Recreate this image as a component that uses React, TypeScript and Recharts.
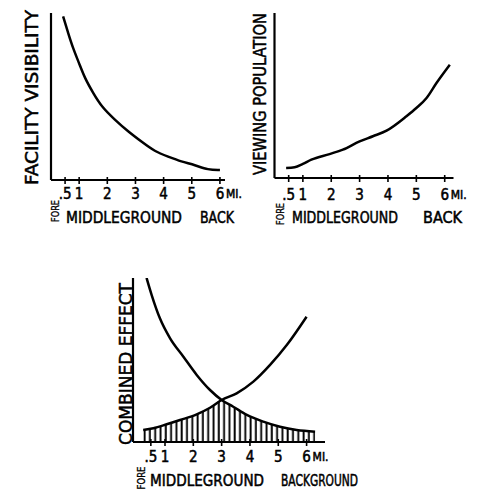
import React from 'react';
import { ComposedChart, Line, Area, XAxis, YAxis } from 'recharts';

// ---- data ----
const tickValues = [0.5, 1, 2, 3, 4, 5, 6];
const unitLabel = 'MI.';

const visibilityX = [0.43, 0.61, 0.78, 1.02, 1.2, 1.5, 1.79, 2.27, 2.74, 3.21, 3.69, 4.16, 4.63, 5.11, 5.58, 6.0];
const visibilityY = [98, 88, 79, 69, 61, 52, 44, 36, 29, 23, 17, 14, 11, 9, 6, 6];

const populationX = [0.41, 0.71, 1.0, 1.3, 1.94, 2.41, 3.0, 3.47, 3.95, 4.65, 5.0, 5.36, 5.71, 6.18];
const populationY = [6.1, 6.5, 8.5, 11.1, 14.5, 17.2, 22.2, 25.3, 28.7, 37.4, 42.4, 48.5, 57.6, 68.7];

const combinedFallX = [0.35, 0.53, 0.82, 1.18, 1.65, 2.12, 2.59, 3.0, 3.41, 3.89, 4.47, 5.06, 5.65, 6.3];
const combinedFallY = [100, 89.6, 75.4, 63.2, 52.0, 40.9, 31.7, 25.6, 21.5, 16.5, 12.4, 9.3, 7.3, 6.3];
const combinedRiseX = [0.23, 0.59, 1.06, 1.53, 2.12, 2.59, 3.0, 3.53, 4.12, 4.71, 5.3, 6.0];
const combinedRiseY = [7.3, 8.4, 10.8, 13.4, 16.9, 20.9, 25.6, 29.7, 36.8, 47.0, 59.1, 76.4];

const title1 = 'FACILITY VISIBILITY';
const title2 = 'VIEWING POPULATION';
const title3 = 'COMBINED EFFECT';
const zones12 = ['FORE', 'MIDDLEGROUND', 'BACK'];
const zones3 = ['FORE', 'MIDDLEGROUND', 'BACKGROUND'];

// ---- helpers ----
const toRows = (xs: number[], ys: number[]) => xs.map((x, i) => ({ x, y: ys[i] }));
const visData = toRows(visibilityX, visibilityY);
const popData = toRows(populationX, populationY);
const fallData = toRows(combinedFallX, combinedFallY);
const riseData = toRows(combinedRiseX, combinedRiseY);
const crossX = 3.0;
const shadeData = [
  ...riseData.filter((d) => d.x <= crossX),
  ...fallData.filter((d) => d.x > crossX),
];

const FONT = "'DejaVu Sans Condensed', 'Liberation Sans Narrow', 'DejaVu Sans', sans-serif";
const INK = '#000';
const YW = 20;
const XH = 30;
const textInk = { fill: INK, stroke: INK, strokeWidth: 0.5 };

// all coordinates below are given in page pixels, shifted by each panel's origin (ox, oy)
function makeTick(oy: number, axisY: number, labelY: number) {
  return (props: any) => {
    const { x, payload } = props;
    const v = payload.value;
    const label = v === 0.5 ? '.5' : String(v);
    const ay = axisY - oy;
    const ly = labelY - oy;
    return (
      <g>
        <line x1={x} x2={x} y1={ay - 3} y2={ay + 4} stroke={INK} strokeWidth={1.6} />
        <text x={x} y={ly} textAnchor="middle" dominantBaseline="central" fontFamily={FONT}
          fontSize={15} {...textInk}>{label}</text>
        {v === 6 && (
          <text x={x + 6} y={ly} textAnchor="start" dominantBaseline="central" fontFamily={FONT}
            fontSize={12} {...textInk}>{unitLabel}</text>
        )}
      </g>
    );
  };
}

function yTitle(ox: number, oy: number, text: string, pcx: number, pcy: number, len: number, size = 18) {
  const cx = pcx - ox;
  const cy = pcy - oy;
  return () => (
    <text transform={`rotate(-90 ${cx} ${cy})`} x={cx} y={cy} textAnchor="middle" dominantBaseline="central"
      textLength={len} lengthAdjust="spacingAndGlyphs" fontFamily={FONT} fontSize={size} {...textInk}>
      {text}
    </text>
  );
}

function zoneLabels(
  ox: number,
  oy: number,
  zones: string[],
  fore: { cx: number; cy: number; len: number },
  y: number,
  spans: [number, number][]
) {
  const fx = fore.cx - ox;
  const fy = fore.cy - oy;
  return () => (
    <g>
      <text transform={`rotate(-90 ${fx} ${fy})`} x={fx} y={fy} textAnchor="middle"
        dominantBaseline="central" textLength={fore.len} lengthAdjust="spacingAndGlyphs" fontFamily={FONT}
        fontSize={10} {...textInk} strokeWidth={0.3}>{zones[0]}</text>
      {spans.map((s, i) => (
        <text key={i} x={s[0] - ox} y={y - oy} textAnchor="start" dominantBaseline="central" textLength={s[1] - s[0]}
          lengthAdjust="spacingAndGlyphs" fontFamily={FONT} fontSize={16} {...textInk}>
          {zones[i + 1]}
        </text>
      ))}
    </g>
  );
}

const axisStyle = { stroke: INK, strokeWidth: 2.2 };

export default function App() {
  // panel origins and sizes (page pixels)
  const p1 = { ox: 0, oy: 0, w: 244, h: 235 };
  const p2 = { ox: 244, oy: 0, w: 235, h: 235 };
  const p3 = { ox: 0, oy: 240, w: 479, h: 261 };
  return (
    <div style={{ position: 'absolute', left: 0, top: 0, width: 479, height: 501, background: '#fff', overflow: 'hidden' }}>
      {/* Chart 1: facility visibility */}
      <div style={{ position: 'absolute', left: p1.ox, top: p1.oy }}>
        <ComposedChart width={p1.w} height={p1.h}
          margin={{ top: 13 - p1.oy, left: 51 - p1.ox - YW, right: p1.ox + p1.w - 225, bottom: p1.oy + p1.h - 180 - XH }}>
          <XAxis type="number" dataKey="x" domain={[0, 6.18]} ticks={tickValues} interval={0} height={XH}
            axisLine={axisStyle} tickLine={false} tick={makeTick(p1.oy, 180, 194)} allowDataOverflow
            label={zoneLabels(p1.ox, p1.oy, zones12, { cx: 55, cy: 211, len: 22 }, 217, [[66, 182], [200, 234]])} />
          <YAxis type="number" domain={[0, 100]} width={YW} tick={false} tickLine={false} axisLine={axisStyle}
            allowDataOverflow label={yTitle(p1.ox, p1.oy, title1, 31, 97.5, 175)} />
          <Line data={visData} dataKey="y" type="basis" stroke={INK} strokeWidth={2.5} dot={false}
            isAnimationActive={false} />
        </ComposedChart>
      </div>

      {/* Chart 2: viewing population */}
      <div style={{ position: 'absolute', left: p2.ox, top: p2.oy }}>
        <ComposedChart width={p2.w} height={p2.h}
          margin={{ top: 13 - p2.oy, left: 274.5 - p2.ox - YW, right: p2.ox + p2.w - 453.5, bottom: p2.oy + p2.h - 178 - XH }}>
          <XAxis type="number" dataKey="x" domain={[0, 6.31]} ticks={tickValues} interval={0} height={XH}
            axisLine={axisStyle} tickLine={false} tick={makeTick(p2.oy, 178, 195)} allowDataOverflow
            label={zoneLabels(p2.ox, p2.oy, zones12, { cx: 280, cy: 214, len: 22 }, 217, [[292, 398], [423, 462]])} />
          <YAxis type="number" domain={[0, 100]} width={YW} tick={false} tickLine={false} axisLine={axisStyle}
            allowDataOverflow label={yTitle(p2.ox, p2.oy, title2, 259.5, 94, 162, 17)} />
          <Line data={popData} dataKey="y" type="monotone" stroke={INK} strokeWidth={2.5} dot={false}
            isAnimationActive={false} />
        </ComposedChart>
      </div>

      {/* Chart 3: combined effect */}
      <div style={{ position: 'absolute', left: p3.ox, top: p3.oy }}>
        <ComposedChart width={p3.w} height={p3.h}
          margin={{ top: 278 - p3.oy, left: 133 - p3.ox - YW, right: p3.ox + p3.w - 325, bottom: p3.oy + p3.h - 442 - XH }}>
          <defs>
            <pattern id="hatch" patternUnits="userSpaceOnUse" width={5.3} height={6}>
              <line x1={1.5} x2={1.5} y1={0} y2={6} stroke={INK} strokeWidth={1.9} />
            </pattern>
          </defs>
          <XAxis type="number" dataKey="x" domain={[-0.13, 6.65]} ticks={tickValues} interval={0} height={XH}
            axisLine={axisStyle} tickLine={false} tick={makeTick(p3.oy, 442, 457)} allowDataOverflow
            label={zoneLabels(p3.ox, p3.oy, zones3, { cx: 141, cy: 478, len: 23 }, 480, [[150, 264], [281, 358]])} />
          <YAxis type="number" domain={[0, 100]} width={YW} tick={false} tickLine={false} axisLine={axisStyle}
            allowDataOverflow label={yTitle(p3.ox, p3.oy, title3, 125, 364, 162)} />
          <Area data={shadeData} dataKey="y" type="monotone" stroke="none" fill="url(#hatch)" fillOpacity={1}
            isAnimationActive={false} />
          <Line data={fallData} dataKey="y" type="monotone" stroke={INK} strokeWidth={2.5} dot={false}
            isAnimationActive={false} />
          <Line data={riseData} dataKey="y" type="monotone" stroke={INK} strokeWidth={2.5} dot={false}
            isAnimationActive={false} />
        </ComposedChart>
      </div>
    </div>
  );
}
